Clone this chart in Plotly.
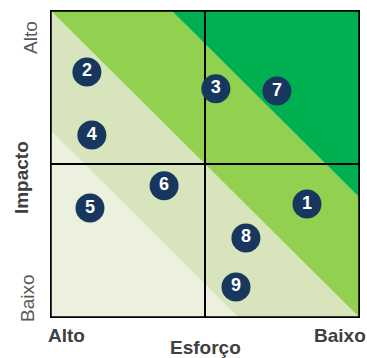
import plotly.graph_objects as go

# Data
ids = ["1", "2", "3", "4", "5", "6", "7", "8", "9"]
esforco = [8.29, 1.19, 5.35, 1.35, 1.29, 3.68, 7.32, 6.32, 6.0]
impacto = [3.70, 7.99, 7.44, 5.94, 3.57, 4.29, 7.37, 2.60, 1.01]

# band boundaries (x + y = s) and colours, from lowest to highest
band_edges = [0, 6.1, 10.0, 13.9, 20]
band_colors = ["#EBF1DE", "#D7E4BC", "#92D050", "#00B050"]

x_labels = ["Alto", "Baixo"]
y_labels = ["Baixo", "Alto"]

LO, HI = 0.0, 10.0


def clip(poly, a, b, c):
    # keep points with a*x + b*y <= c
    out = []
    n = len(poly)
    for i in range(n):
        p, q = poly[i], poly[(i + 1) % n]
        fp = a * p[0] + b * p[1] - c
        fq = a * q[0] + b * q[1] - c
        if fp <= 0:
            out.append(p)
        if (fp < 0 < fq) or (fq < 0 < fp):
            t = fp / (fp - fq)
            out.append((p[0] + t * (q[0] - p[0]), p[1] + t * (q[1] - p[1])))
    return out


fig = go.Figure()
square = [(LO, LO), (HI, LO), (HI, HI), (LO, HI)]
for i, col in enumerate(band_colors):
    lo, hi = band_edges[i], band_edges[i + 1]
    poly = clip(square, 1, 1, hi)
    poly = clip(poly, -1, -1, -lo)
    if not poly:
        continue
    xs = [p[0] for p in poly] + [poly[0][0]]
    ys = [p[1] for p in poly] + [poly[0][1]]
    fig.add_trace(go.Scatter(x=xs, y=ys, fill="toself", fillcolor=col,
                             mode="lines", line=dict(width=0, color=col),
                             hoverinfo="skip", showlegend=False))

mid = (LO + HI) / 2
# quadrant dividers
fig.add_trace(go.Scatter(x=[mid, mid, None, LO, HI], y=[LO, HI, None, mid, mid],
                         mode="lines", line=dict(color="black", width=2),
                         hoverinfo="skip", showlegend=False))
# outer frame
fig.add_trace(go.Scatter(x=[LO, HI, HI, LO, LO], y=[LO, LO, HI, HI, LO],
                         mode="lines", line=dict(color="black", width=3.5),
                         hoverinfo="skip", showlegend=False))

fig.add_trace(go.Scatter(
    x=esforco, y=impacto, mode="markers+text", text=ids,
    textposition="middle center",
    textfont=dict(family="Liberation Sans", size=18, color="white", weight="bold"),
    marker=dict(size=29, color="#17375E", line=dict(width=0)),
    showlegend=False, hoverinfo="skip"))

gray = "#595959"
bold_col = "#404040"


def a(x, y, text, size=19, color=bold_col, angle=0):
    return dict(x=x, y=y, xref="paper", yref="paper", text=text, textangle=angle,
                showarrow=False, xanchor="center", yanchor="middle",
                font=dict(family="Liberation Sans", size=size, color=color))


ann = [
    a(-0.065, 0.912, y_labels[1], color=gray, angle=-90),
    a(-0.071, 0.065, y_labels[0], color=gray, angle=-90),
    a(-0.094, 0.457, "<b>Impacto</b>", angle=-90),
    a(0.052, -0.058, "<b>" + x_labels[0] + "</b>"),
    a(0.935, -0.058, "<b>" + x_labels[1] + "</b>"),
    a(0.5, -0.096, "<b>Esforço</b>"),
]

fig.update_layout(
    width=367, height=358,
    margin=dict(l=50, r=7, t=10, b=40),
    paper_bgcolor="white", plot_bgcolor="white",
    xaxis=dict(range=[LO, HI], visible=False, fixedrange=True),
    yaxis=dict(range=[LO, HI], visible=False, fixedrange=True),
    annotations=ann,
)

fig.write_html("out.html")
